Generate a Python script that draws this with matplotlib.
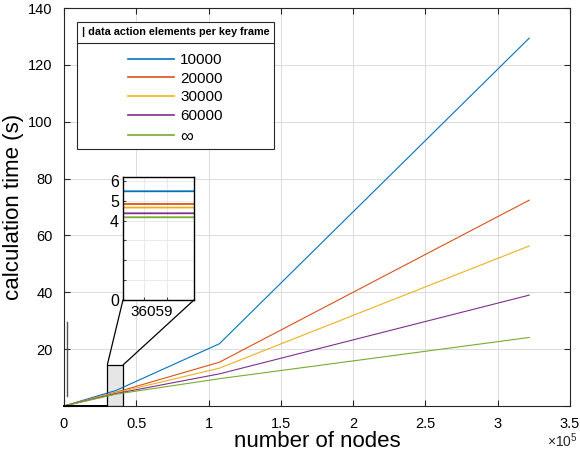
import matplotlib
matplotlib.use("Agg")
import matplotlib.pyplot as plt
from matplotlib.patches import Rectangle, ConnectionPatch
from matplotlib.lines import Line2D

plt.rcParams['font.family'] = ['Liberation Sans', 'DejaVu Sans']
plt.rcParams['mathtext.fontset'] = 'custom'
plt.rcParams['mathtext.rm'] = 'Liberation Sans'
plt.rcParams['mathtext.it'] = 'Liberation Sans:italic'

# ---- data ----
nodes = [0, 36059, 107500, 321800]
labels = ['10000', '20000', '30000', '60000', r'$\infty$']
t_10000 = [0, 5.48, 21.9, 129.4]
t_20000 = [0, 4.84, 15.4, 72.4]
t_30000 = [0, 4.66, 13.3, 56.3]
t_60000 = [0, 4.37, 11.3, 39.0]
t_inf = [0, 4.17, 9.6, 24.1]
series = [t_10000, t_20000, t_30000, t_60000, t_inf]
colors = ['#0072BD', '#D95319', '#EDB120', '#7E2F8E', '#77AC30']
xticks = [0, 50000, 100000, 150000, 200000, 250000, 300000, 350000]
xticklabels = ['0', '0.5', '1', '1.5', '2', '2.5', '3', '3.5']
yticks = [0, 20, 40, 60, 80, 100, 120, 140]
yticklabels = ['', '20', '40', '60', '80', '100', '120', '140']
zoom_x = 36059
zoom_rect = (30000, 41000, 0, 14.5)
inset_ticks = [0, 1, 2, 3, 4, 5, 6]
inset_ticklabels = ['0', '', '', '', '4', '5', '6']

fig = plt.figure(figsize=(5.8, 4.59), dpi=100)
ax = fig.add_axes([0.1103, 0.1155, 0.8724, 0.867])

for s, c, lab in zip(series, colors, labels):
    ax.plot(nodes, s, color=c, lw=0.8, label=lab)

ax.set_xlim(0, 350000)
ax.set_ylim(0, 140)
ax.set_xticks(xticks)
ax.set_xticklabels(xticklabels)
ax.set_yticks(yticks)
ax.set_yticklabels(yticklabels)
ax.grid(True, color='#dcdcdc', lw=0.7)
ax.set_axisbelow(True)
ax.tick_params(direction='in', top=True, right=True, length=4, labelsize=10.5,
               color='#262626', pad=8)
for sp in ax.spines.values():
    sp.set_color('#262626')
    sp.set_linewidth(0.8)
ax.set_xlabel('number of nodes', fontsize=16, labelpad=0)
ax.set_ylabel('calculation time (s)', fontsize=16, labelpad=3)
fig.text(578 / 580, 1 - 441 / 459, r'$\times10^{5}$', ha='right',
         va='center', fontsize=10, color='#262626')

# zoom rectangle and small marks
x0, x1, y0, y1 = zoom_rect
ax.add_patch(Rectangle((x0, y0), x1 - x0, y1 - y0, facecolor='#e6e6e6',
                       edgecolor='black', lw=0.9, zorder=1.5))
ax.plot([0, x0], [0, 0], color='black', lw=1.4, zorder=3, clip_on=False)
ax.plot([1900, 1900], [3.5, 29.5], color='#555555', lw=1.0, zorder=3)

# legend
leg = ax.legend(loc='upper left', bbox_to_anchor=(0.0257, 0.965),
                borderaxespad=0,
                title='| data action elements per key frame',
                title_fontproperties={'weight': 'bold', 'size': 7.8},
                fontsize=11, frameon=True, fancybox=False, edgecolor='#262626',
                framealpha=1, handlelength=3.0, handletextpad=0.4,
                labelspacing=0.3, borderpad=0.3, alignment='center')
leg.get_frame().set_linewidth(0.8)
leg._legend_box.sep = 12
for l in leg.get_lines():
    l.set_linewidth(1.2)
leg.get_texts()[-1].set_fontsize(13)

# inset
axi = fig.add_axes([0.212, 0.3464, 0.1224, 0.268])
for s, c in zip(series, colors):
    axi.plot(nodes, s, color=c, lw=1.3)
axi.set_xlim(zoom_x - 6, zoom_x + 6)
axi.set_ylim(0, 6.2)
axi.set_xticks([zoom_x - 2.5, zoom_x + 1.5])
axi.set_xticklabels(['', ''])
axi.set_yticks(inset_ticks)
axi.set_yticklabels(inset_ticklabels)
axi.grid(True, color='#e6e6e6', lw=0.6)
axi.set_axisbelow(True)
axi.tick_params(direction='in', length=2.5, labelsize=11.5, pad=3, color='#444444')
for sp in axi.spines.values():
    sp.set_color('black')
    sp.set_linewidth(1.0)
axi.text(0.4, -0.04, '36059', transform=axi.transAxes, ha='center', va='top',
         fontsize=11)

for (xa, xb) in [(0, x0), (1, x1)]:
    cp = ConnectionPatch(xyA=(xa, 0), coordsA=axi.transAxes,
                         xyB=(xb, y1), coordsB=ax.transData,
                         color='black', lw=0.9)
    fig.add_artist(cp)

# separator line under legend title
fig.canvas.draw()
r = fig.canvas.get_renderer()
fb = leg.get_frame().get_window_extent(r)
tb = leg.get_title().get_window_extent(r)
ysep = tb.y0 - 6
inv = fig.transFigure.inverted()
(fx0, fy), = inv.transform([(fb.x0, ysep)])
(fx1, _), = inv.transform([(fb.x1, ysep)])
fig.add_artist(Line2D([fx0, fx1], [fy, fy], color='#262626', lw=0.8))

fig.savefig('out.png', dpi=100)
